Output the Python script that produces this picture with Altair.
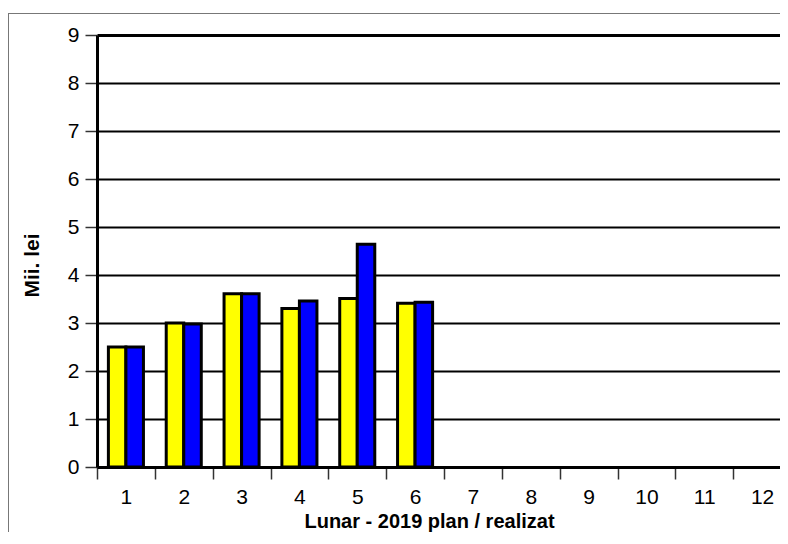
import altair as alt
import pandas as pd

months = ["1", "2", "3", "4", "5", "6", "7", "8", "9", "10", "11", "12"]
data_months = ["1", "2", "3", "4", "5", "6"]
plan = [2.50, 3.00, 3.61, 3.30, 3.51, 3.41]
realizat = [2.50, 2.98, 3.61, 3.46, 4.64, 3.43]
series = ["plan", "realizat"]
colors = ["#FFFF00", "#0000FF"]
y_ticks = [0, 1, 2, 3, 4, 5, 6, 7, 8, 9]

rows = []
for m, p, r in zip(data_months, plan, realizat):
    rows.append({"month": m, "series": "plan", "value": p})
    rows.append({"month": m, "series": "realizat", "value": r})
df = pd.DataFrame(rows)

FONT = "Liberation Sans"

bars = alt.Chart(df).mark_bar(stroke="black", strokeWidth=3).encode(
    x=alt.X(
        "month:O",
        sort=months,
        scale=alt.Scale(domain=months, range=[0, 694], paddingInner=0, paddingOuter=0),
        axis=alt.Axis(
            tickBand="extent",
            tickSize=12,
            tickWidth=1.5,
            tickColor="#333333",
            domainWidth=3,
            domainColor="black",
            labelAngle=0,
            labelFont=FONT,
            labelFontSize=21,
            labelColor="black",
            labelPadding=7,
            grid=False,
            title="Lunar - 2019 plan / realizat",
            titleFont=FONT,
            titleFontSize=20,
            titleFontWeight="bold",
            titleColor="black",
            titleX=332,
            titleY=60,
            titleAlign="center",
            titleBaseline="alphabetic",
        ),
    ),
    xOffset=alt.XOffset(
        "series:N",
        scale=alt.Scale(domain=series, paddingInner=0, paddingOuter=0.65),
    ),
    y=alt.Y(
        "value:Q",
        scale=alt.Scale(domain=[0, 9], nice=False),
        axis=alt.Axis(
            values=y_ticks,
            tickSize=12,
            tickWidth=1.5,
            tickColor="#333333",
            domainWidth=3,
            domainColor="black",
            gridColor="black",
            gridWidth={"condition": {"test": "datum.value == 9", "value": 3}, "value": 1.8},
            labelFont=FONT,
            labelFontSize=21,
            labelColor="black",
            labelPadding=6,
            title="Mii. lei",
            titleFont=FONT,
            titleFontSize=21,
            titleFontWeight="bold",
            titleColor="black",
            titleX=-65,
            titleY=230,
            titleAngle=270,
            titleAlign="center",
            titleBaseline="middle",
        ),
    ),
    color=alt.Color(
        "series:N",
        scale=alt.Scale(domain=series, range=colors),
        legend=None,
    ),
)

frame_left = alt.Chart(alt.Data(values=[{}])).mark_rule(
    stroke="#777777", strokeWidth=1
).encode(
    x=alt.value(-88.5),
    y=alt.value(-22),
    y2=alt.value(540),
)

frame_top = alt.Chart(alt.Data(values=[{}])).mark_rule(
    stroke="#777777", strokeWidth=1
).encode(
    x=alt.value(-89),
    x2=alt.value(683),
    y=alt.value(-21.5),
)

chart = alt.layer(frame_left, frame_top, bars).properties(
    width=683,
    height=432,
    padding={"left": 89, "top": 27, "right": 0, "bottom": 65},
    autosize=alt.AutoSizeParams(type="none"),
    background="white",
).configure_view(stroke=None)

chart.save("out.html", embed_options={"renderer": "svg", "actions": False})
